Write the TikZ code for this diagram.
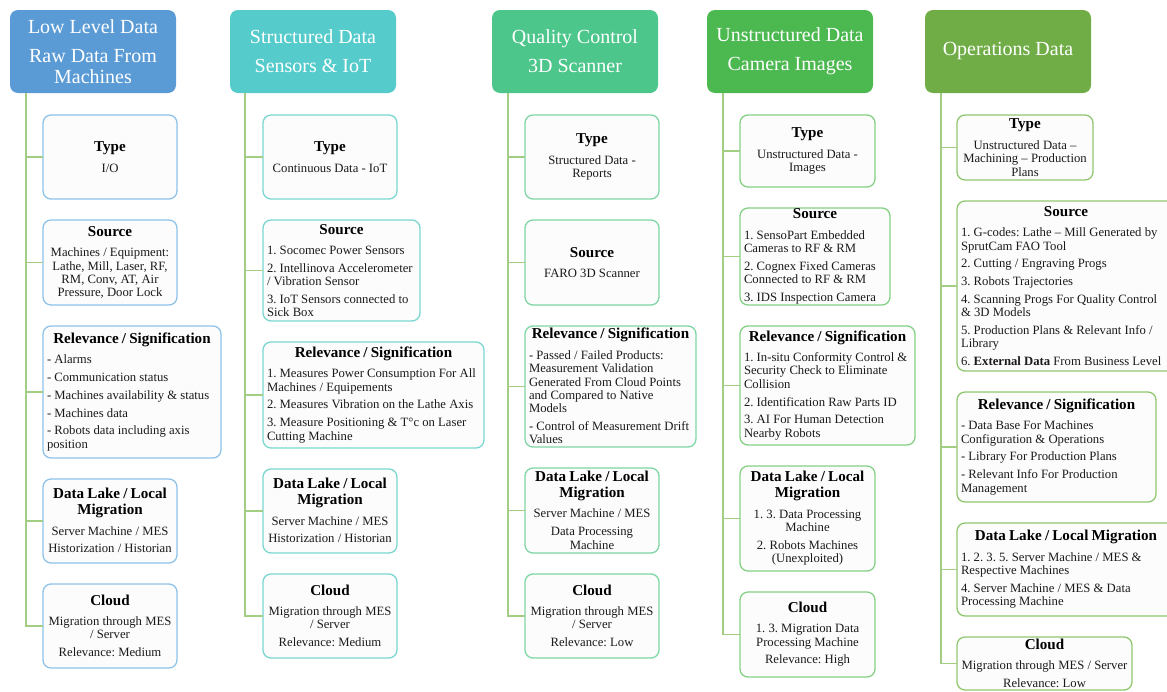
\documentclass[tikz,border=0pt]{standalone}
\usepackage{fontspec}
\setmainfont{Liberation Serif}
\usetikzlibrary{positioning}
\frenchspacing

\definecolor{lowhead}{HTML}{5B9BD5}
\definecolor{lowedge}{HTML}{8EC3E8}
\definecolor{structhead}{HTML}{55CBCB}
\definecolor{structedge}{HTML}{7AD6D0}
\definecolor{qualityhead}{HTML}{4DC68B}
\definecolor{qualityedge}{HTML}{7DD6A4}
\definecolor{unstructhead}{HTML}{4CB850}
\definecolor{unstructedge}{HTML}{85D085}
\definecolor{opshead}{HTML}{70AD47}
\definecolor{opsedge}{HTML}{90C76E}
\definecolor{trunkline}{HTML}{A2CD82}
\definecolor{cardfill}{HTML}{FCFCFC}
\definecolor{cardtext}{HTML}{1A1A1A}

\newcommand{\plainspaces}{\spaceskip=.25em minus .05em\xspaceskip=.25em minus .05em\relax}
\newcommand{\headfont}{\fontsize{20}{21}\selectfont}
\newcommand{\cardfont}{\fontsize{12.7}{13.3}\selectfont}
\newcommand{\cardtitlefont}{\fontsize{15.1}{15.5}\selectfont\bfseries\color{black}}
\newcommand{\cardhead}[1]{\plainspaces{\centering\cardtitlefont #1\par}\vspace{7.3pt}}

\tikzstyle{head} = [rectangle, rounded corners=8pt, minimum height=83pt, text width=158pt, inner xsep=4pt, outer sep=0pt, align=center, text=white, font=\headfont]
\tikzstyle{card} = [rectangle, rounded corners=8pt, line width=1.3pt, fill=cardfill, text=cardtext, inner xsep=4pt, inner ysep=0pt, outer sep=0pt, text height=10pt, text width=126pt, align=center, font=\cardfont]
\tikzstyle{lowcard} = [card, draw=lowedge]
\tikzstyle{structcard} = [card, draw=structedge]
\tikzstyle{qualitycard} = [card, draw=qualityedge]
\tikzstyle{unstructcard} = [card, draw=unstructedge]
\tikzstyle{opscard} = [card, draw=opsedge]
\tikzstyle{trunk} = [line width=1.6pt, draw=trunkline]

\begin{document}
\begin{tikzpicture}[x=1pt, y=1pt]
\useasboundingbox (0,0) rectangle (1167,-691);
\clip (0,0) rectangle (1167,-691);

% Headers
\node (lowlevel) [head, fill=lowhead, anchor=north west] at (10,-10) {\plainspaces Low Level Data\\[8pt]Raw Data From\\Machines};
\node (structured) [head, fill=structhead, anchor=north west] at (230,-10) {\plainspaces Structured Data\\[8pt]Sensors \& IoT};
\node (quality) [head, fill=qualityhead, anchor=north west] at (492,-10) {\plainspaces Quality Control\\[8pt]3D Scanner};
\node (unstructured) [head, fill=unstructhead, anchor=north west] at (707,-10) {\plainspaces Unstructured Data\\[8pt]Camera Images};
\node (operations) [head, fill=opshead, anchor=north west] at (925,-10) {\plainspaces Operations Data};

% Low level data
\node (lowtype) [lowcard, minimum height=84pt, below right=22pt and 33pt of lowlevel.south west] {\cardhead{Type}I/O};
\node (lowsource) [lowcard, minimum height=85pt, below right=21pt and 0pt of lowtype.south west] {\cardhead{Source}Machines / Equipment:\\Lathe, Mill, Laser, RF,\\RM, Conv, AT, Air\\Pressure, Door Lock};
\node (lowrel) [lowcard, text width=170pt, align=left, minimum height=132pt, below right=21pt and 0pt of lowsource.south west] {\cardhead{Relevance / Signification}- Alarms\\[4.5pt]- Communication status\\[4.5pt]- Machines availability \& status\\[4.5pt]- Machines data\\[4.5pt]- Robots data including axis\\position};
\node (lowlake) [lowcard, minimum height=84pt, below right=21pt and 0pt of lowrel.south west] {\cardhead{Data Lake / Local\\Migration}Server Machine / MES\\[4.5pt]Historization / Historian};
\node (lowcloud) [lowcard, minimum height=84pt, below right=21pt and 0pt of lowlake.south west] {\cardhead{Cloud}Migration through MES\\/ Server\\[4.5pt]Relevance: Medium};

% Structured data
\node (structtype) [structcard, minimum height=84pt, below right=22pt and 33pt of structured.south west] {\cardhead{Type}Continuous Data - IoT};
\node (structsource) [structcard, text width=149pt, align=left, minimum height=101pt, below right=21pt and 0pt of structtype.south west] {\cardhead{Source}1. Socomec Power Sensors\\[4.5pt]2. Intellinova Accelerometer\\/ Vibration Sensor\\[4.5pt]3. IoT Sensors connected to\\Sick Box};
\node (structrel) [structcard, text width=213pt, align=left, minimum height=106pt, below right=21pt and 0pt of structsource.south west] {\cardhead{Relevance / Signification}1. Measures Power Consumption For All\\Machines / Equipements\\[4.5pt]2. Measures Vibration on the Lathe Axis\\[4.5pt]3. Measure Positioning \& T°c on Laser\\Cutting Machine};
\node (structlake) [structcard, minimum height=84pt, below right=21pt and 0pt of structrel.south west] {\cardhead{Data Lake / Local\\Migration}Server Machine / MES\\[4.5pt]Historization / Historian};
\node (structcloud) [structcard, minimum height=84pt, below right=21pt and 0pt of structlake.south west] {\cardhead{Cloud}Migration through MES\\/ Server\\[4.5pt]Relevance: Medium};

% Quality control
\node (qualitytype) [qualitycard, minimum height=84pt, below right=22pt and 33pt of quality.south west] {\cardhead{Type}Structured Data -\\Reports};
\node (qualitysource) [qualitycard, minimum height=85pt, below right=21pt and 0pt of qualitytype.south west] {\cardhead{Source}FARO 3D Scanner};
\node (qualityrel) [qualitycard, text width=163pt, align=left, minimum height=121pt, below right=21pt and 0pt of qualitysource.south west] {\cardhead{Relevance / Signification}- Passed / Failed Products:\\Measurement Validation\\Generated From Cloud Points\\and Compared to Native\\Models\\[4.5pt]- Control of Measurement Drift\\Values};
\node (qualitylake) [qualitycard, minimum height=85pt, below right=21pt and 0pt of qualityrel.south west] {\cardhead{Data Lake / Local\\Migration}Server Machine / MES\\[4.5pt]Data Processing\\Machine};
\node (qualitycloud) [qualitycard, minimum height=84pt, below right=21pt and 0pt of qualitylake.south west] {\cardhead{Cloud}Migration through MES\\/ Server\\[4.5pt]Relevance: Low};

% Unstructured data
\node (unstructtype) [unstructcard, text width=127pt, minimum height=72pt, below right=22pt and 33pt of unstructured.south west] {\cardhead{Type}Unstructured Data -\\Images};
\node (unstructsource) [unstructcard, text width=142pt, align=left, minimum height=97pt, below right=21pt and 0pt of unstructtype.south west] {\cardhead{Source}1. SensoPart Embedded\\Cameras to RF \& RM\\[4.5pt]2. Cognex Fixed Cameras\\Connected to RF \& RM\\[4.5pt]3. IDS Inspection Camera};
\node (unstructrel) [unstructcard, text width=167pt, align=left, minimum height=119pt, below right=21pt and 0pt of unstructsource.south west] {\cardhead{Relevance / Signification}1. In-situ Conformity Control \&\\Security Check to Eliminate\\Collision\\[4.5pt]2. Identification Raw Parts ID\\[4.5pt]3. AI For Human Detection\\Nearby Robots};
\node (unstructlake) [unstructcard, text width=127pt, minimum height=105pt, below right=21pt and 0pt of unstructrel.south west] {\cardhead{Data Lake / Local\\Migration}1. 3. Data Processing\\Machine\\[4.5pt]2. Robots Machines\\(Unexploited)};
\node (unstructcloud) [unstructcard, text width=127pt, minimum height=85pt, below right=21pt and 0pt of unstructlake.south west] {\cardhead{Cloud}1. 3. Migration Data\\Processing Machine\\[4.5pt]Relevance: High};

% Operations data
\node (opstype) [opscard, text width=128pt, minimum height=65pt, below right=22pt and 32pt of operations.south west] {\cardhead{Type}Unstructured Data --\\Machining -- Production\\Plans};
\node (opssource) [opscard, text width=210pt, align=left, minimum height=170pt, below right=21pt and 0pt of opstype.south west] {\cardhead{Source}1. G-codes: Lathe -- Mill Generated by\\SprutCam FAO Tool\\[4.5pt]2. Cutting / Engraving Progs\\[4.5pt]3. Robots Trajectories\\[4.5pt]4. Scanning Progs For Quality Control\\\& 3D Models\\[4.5pt]5. Production Plans \& Relevant Info /\\Library\\[4.5pt]6. \textbf{External Data} From Business Level};
\node (opsrel) [opscard, text width=191pt, align=left, minimum height=110pt, below right=21pt and 0pt of opssource.south west] {\cardhead{Relevance / Signification}- Data Base For Machines\\Configuration \& Operations\\[4.5pt]- Library For Production Plans\\[4.5pt]- Relevant Info For Production\\Management};
\node (opslake) [opscard, text width=210pt, align=left, minimum height=93pt, below right=21pt and 0pt of opsrel.south west] {\cardhead{Data Lake / Local Migration}1. 2. 3. 5. Server Machine / MES \&\\Respective Machines\\[4.5pt]4. Server Machine / MES \& Data\\Processing Machine};
\node (opscloud) [opscard, text width=167pt, minimum height=53pt, below right=21pt and 0pt of opslake.south west] {\cardhead{Cloud}Migration through MES / Server\\[4.5pt]Relevance: Low};

% Lines
\draw [trunk] ([xshift=16pt]lowlevel.south west) |- (lowtype.west);
\draw [trunk] ([xshift=16pt]lowlevel.south west) |- (lowsource.west);
\draw [trunk] ([xshift=16pt]lowlevel.south west) |- (lowrel.west);
\draw [trunk] ([xshift=16pt]lowlevel.south west) |- (lowlake.west);
\draw [trunk] ([xshift=16pt]lowlevel.south west) |- (lowcloud.west);
\draw [trunk] ([xshift=15pt]structured.south west) |- (structtype.west);
\draw [trunk] ([xshift=15pt]structured.south west) |- (structsource.west);
\draw [trunk] ([xshift=15pt]structured.south west) |- (structrel.west);
\draw [trunk] ([xshift=15pt]structured.south west) |- (structlake.west);
\draw [trunk] ([xshift=15pt]structured.south west) |- (structcloud.west);
\draw [trunk] ([xshift=16pt]quality.south west) |- (qualitytype.west);
\draw [trunk] ([xshift=16pt]quality.south west) |- (qualitysource.west);
\draw [trunk] ([xshift=16pt]quality.south west) |- (qualityrel.west);
\draw [trunk] ([xshift=16pt]quality.south west) |- (qualitylake.west);
\draw [trunk] ([xshift=16pt]quality.south west) |- (qualitycloud.west);
\draw [trunk] ([xshift=16pt]unstructured.south west) |- (unstructtype.west);
\draw [trunk] ([xshift=16pt]unstructured.south west) |- (unstructsource.west);
\draw [trunk] ([xshift=16pt]unstructured.south west) |- (unstructrel.west);
\draw [trunk] ([xshift=16pt]unstructured.south west) |- (unstructlake.west);
\draw [trunk] ([xshift=16pt]unstructured.south west) |- (unstructcloud.west);
\draw [trunk] ([xshift=16pt]operations.south west) |- (opstype.west);
\draw [trunk] ([xshift=16pt]operations.south west) |- (opssource.west);
\draw [trunk] ([xshift=16pt]operations.south west) |- (opsrel.west);
\draw [trunk] ([xshift=16pt]operations.south west) |- (opslake.west);
\draw [trunk] ([xshift=16pt]operations.south west) |- (opscloud.west);

\end{tikzpicture}
\end{document}
